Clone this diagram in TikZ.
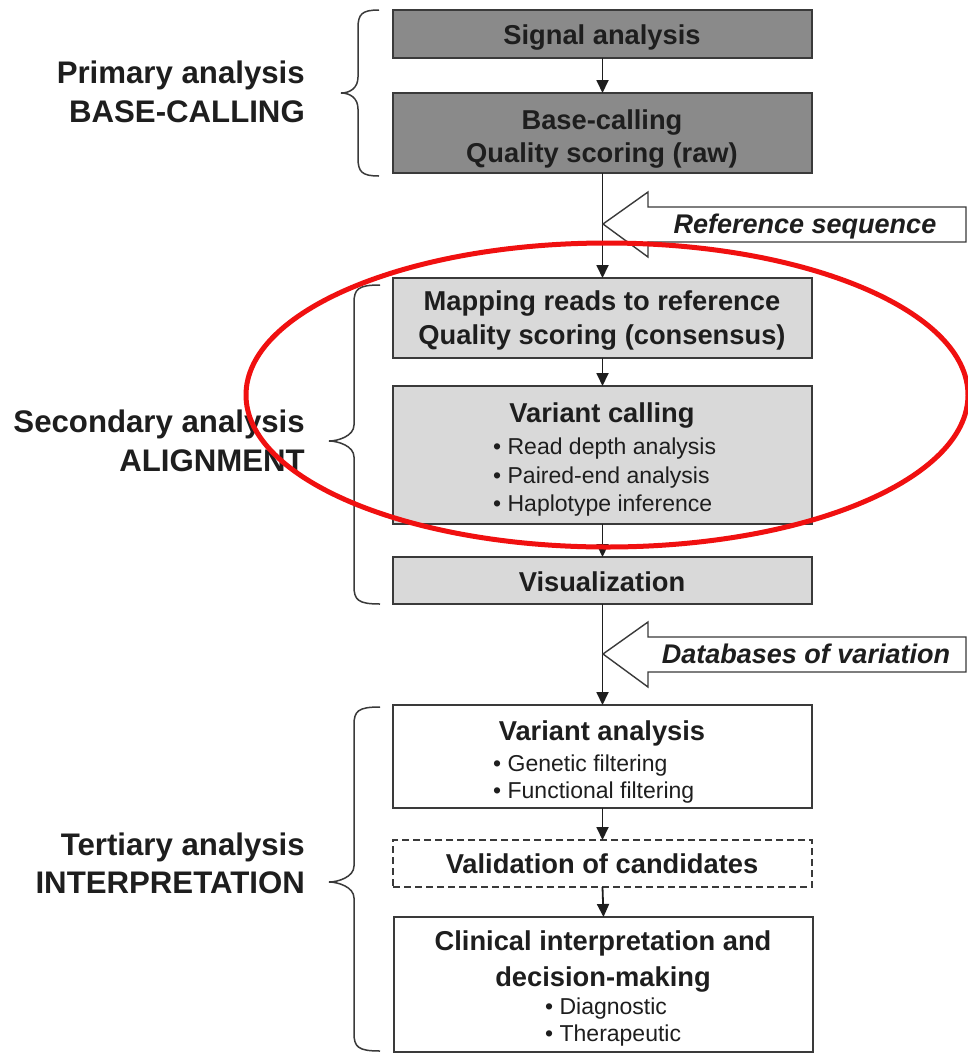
\documentclass[tikz,border=0pt]{standalone}
\usepackage{fontspec}
\setmainfont{Liberation Sans}
\usetikzlibrary{arrows.meta}
\definecolor{ink}{HTML}{1E1E1E}
\definecolor{darkfill}{HTML}{8A8A8A}
\definecolor{lightfill}{HTML}{D9D9D9}
\definecolor{edge}{HTML}{3A3A3A}
\definecolor{ringred}{HTML}{F01010}
\newcommand{\sidebrace}[6]{% xe xs xt y1 ym y2
  \draw[brace] (#1,#4) .. controls (#2+4,#4) and (#2,#4+4) .. (#2,#4+18) -- (#2,#5-16)
    .. controls (#2,#5-5) and (#3+9,#5) .. (#3,#5)
    .. controls (#3+9,#5) and (#2,#5+5) .. (#2,#5+16) -- (#2,#6-18)
    .. controls (#2,#6-4) and (#2+4,#6) .. (#1,#6);}
\begin{document}
\begin{tikzpicture}[x=1pt,y=-1pt,
  box/.style={draw=edge, line width=1.8pt, inner sep=0pt, outer sep=0pt, minimum width=419pt},
  darkbox/.style={box, fill=darkfill},
  lightbox/.style={box, fill=lightfill},
  whitebox/.style={box, fill=white},
  dashbox/.style={box, fill=white, dash pattern=on 7pt off 4pt, line width=1.4pt},
  title/.style={inner sep=0pt, anchor=base, text=ink, font=\fontsize{27.3}{32}\selectfont\bfseries},
  item/.style={inner sep=0pt, anchor=base west, text=ink, font=\fontsize{23}{28}\selectfont},
  side/.style={inner sep=0pt, anchor=base east, text=ink, font=\fontsize{31.2}{36}\selectfont\bfseries},
  flow/.style={draw=ink, line width=1.8pt, -{Triangle[length=13pt,width=12pt]}},
  feed/.style={draw=edge, line width=1.4pt, fill=white},
  feedtext/.style={inner sep=0pt, anchor=base, text=ink, font=\fontsize{27}{32}\selectfont\bfseries\itshape},
  brace/.style={draw=edge, line width=1.5pt},
]
\useasboundingbox[fill=white] (0,0) rectangle (968,1053);

% boxes
\node[darkbox,  minimum height=48pt]  (sig) at (602.5,34)    {};
\node[darkbox,  minimum height=80pt]  (bas) at (602.5,133)   {};
\node[lightbox, minimum height=80pt]  (map) at (602.5,318)   {};
\node[lightbox, minimum height=138pt] (var) at (602.5,455)   {};
\node[lightbox, minimum height=47pt]  (vis) at (602.5,580.5) {};
\node[whitebox, minimum height=103pt] (van) at (602.5,756.5) {};
\node[dashbox,  minimum height=47pt]  (val) at (602.5,863.5) {};
\node[whitebox, minimum height=135pt] (cli) at (603.5,984.5) {};

% texts in boxes
\node[title] (t1) at (602,44) {Signal analysis};
\node[title] (t2) at (602,129) {Base-calling};
\node[title] (t3) at (602,162) {Quality scoring (raw)};
\node[title] (t4) at (602,310) {Mapping reads to reference};
\node[title] (t5) at (602,344) {Quality scoring (consensus)};
\node[title] (t6) at (602,422) {Variant calling};
\node[item]  (t7) at (493,454) {• Read depth analysis};
\node[item]  (t8) at (493,483) {• Paired-end analysis};
\node[item]  (t9) at (493,511) {• Haplotype inference};
\node[title] (t10) at (602,591) {Visualization};
\node[title] (t11) at (602,740) {Variant analysis};
\node[item]  (t12) at (493,771) {• Genetic filtering};
\node[item]  (t13) at (493,798) {• Functional filtering};
\node[title] (t14) at (602,873) {Validation of candidates};
\node[title] (t15) at (603,950) {Clinical interpretation and};
\node[title] (t16) at (603,986) {decision-making};
\node[item]  (t17) at (545,1014) {• Diagnostic};
\node[item]  (t18) at (545,1041) {• Therapeutic};

% flow arrows
\draw[flow] (sig.south) -- (bas.north);
\draw[flow] (bas.south) -- (map.north);
\draw[flow] (map.south) -- (var.north);
\draw[flow] (var.south) -- (vis.north);
\draw[flow] (vis.south) -- (van.north);
\draw[flow] (van.south) -- (val.north);
\draw[flow] (val.south) -- (cli.north);

% input block arrows
\coordinate (rtip) at (603,224);
\draw[feed] (rtip) -- ++(45,-32) -- ++(0,15) -- ++(318,0) -- ++(0,35) -- ++(-318,0) -- ++(0,15) -- cycle;
\node[feedtext] (rs) at (805,233) {Reference sequence};
\coordinate (dtip) at (603,654);
\draw[feed] (dtip) -- ++(45,-32) -- ++(0,15) -- ++(318,0) -- ++(0,35) -- ++(-318,0) -- ++(0,15) -- cycle;
\node[feedtext] (db) at (806,663) {Databases of variation};

% braces and side labels
\sidebrace{379}{358}{341}{10}{93}{176}
\sidebrace{380}{354}{329}{285}{441}{604}
\sidebrace{380}{354}{329}{707}{882}{1051}
\node[side] (p1) at (305,83) {Primary analysis};
\node[side] (p2) at (305,122) {BASE-CALLING};
\node[side] (s1) at (305,432) {Secondary analysis};
\node[side] (s2) at (305,471) {ALIGNMENT};
\node[side] (r1) at (305,855) {Tertiary analysis};
\node[side] (r2) at (305,893) {INTERPRETATION};

% red highlight ring
\draw[ringred, line width=5pt] (607,395) ellipse [x radius=361pt, y radius=152pt];
\end{tikzpicture}
\end{document}
